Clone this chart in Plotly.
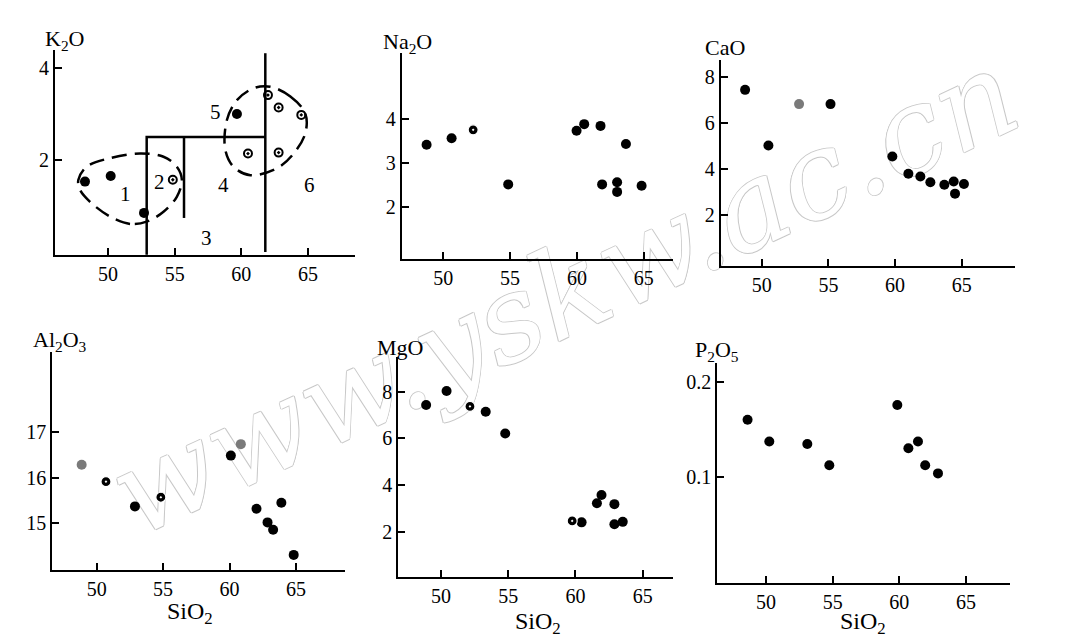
import plotly.graph_objects as go

# ---------------- data ----------------
sio2_ticks = [50, 55, 60, 65]

# K2O panel
k2o_filled_x = [48.27, 50.2, 52.7, 59.67]
k2o_filled_y = [1.53, 1.65, 0.85, 3.0]
k2o_open_x = [54.86, 62.0, 62.8, 64.5, 60.5, 62.8]
k2o_open_y = [1.57, 3.41, 3.14, 2.98, 2.14, 2.16]
k2o_ticks = [2, 4]
# field boundaries (solid)
k2o_bound_x = [52.9, 52.9, 61.8, None, 55.7, 55.7, None, 61.8, 61.8]
k2o_bound_y = [-0.06, 2.5, 2.5, None, 0.74, 2.5, None, 0.0, 4.32]
# dashed group outlines
k2o_loop1_x = [52.9, 51.65, 50.15, 48.65, 47.9, 47.77, 48.4, 50.15, 52.4, 54.16, 55.16, 55.54, 55.16, 54.16, 52.9]
k2o_loop1_y = [0.66, 0.61, 0.77, 1.09, 1.35, 1.565, 1.855, 2.04, 2.14, 2.07, 1.855, 1.565, 1.20, 0.876, 0.66]
k2o_loop2_x = [62.18, 63.68, 64.8, 64.8, 63.93, 62.68, 60.68, 59.42, 58.8, 58.92, 59.67, 60.93, 62.18]
k2o_loop2_y = [3.59, 3.38, 3.01, 2.58, 2.14, 1.82, 1.67, 1.85, 2.22, 2.87, 3.30, 3.56, 3.59]
k2o_field_labels = ["1", "2", "3", "4", "5", "6"]
k2o_field_x = [51.28, 53.86, 57.4, 58.67, 58.05, 65.14]
k2o_field_y = [1.27, 1.53, 0.3, 1.46, 3.05, 1.46]

# Na2O panel
na2o_filled_x = [48.76, 50.63, 54.86, 59.97, 60.54, 61.76, 61.88, 63.0, 63.0, 63.66, 64.83]
na2o_filled_y = [3.42, 3.57, 2.52, 3.74, 3.89, 3.85, 2.52, 2.57, 2.35, 3.44, 2.49]
na2o_ring_x = [52.24]
na2o_ring_y = [3.76]
na2o_ticks = [2, 3, 4]

# CaO panel
cao_filled_x = [48.75, 50.5, 55.16, 59.8, 61.0, 61.9, 62.65, 63.7, 64.4, 64.5, 65.17]
cao_filled_y = [7.45, 5.03, 6.83, 4.55, 3.8, 3.68, 3.43, 3.32, 3.46, 2.93, 3.35]
cao_gray_x = [52.8]
cao_gray_y = [6.83]
cao_ticks = [2, 4, 6, 8]

# Al2O3 panel
al_filled_x = [52.88, 60.1, 62.03, 62.86, 63.28, 63.9, 64.83]
al_filled_y = [15.37, 16.48, 15.32, 15.02, 14.86, 15.45, 14.31]
al_ring_x = [50.7, 54.83]
al_ring_y = [15.91, 15.57]
al_gray_x = [48.87, 60.85]
al_gray_y = [16.28, 16.73]
al_ticks = [15, 16, 17]

# MgO panel
mgo_filled_x = [48.9, 50.42, 53.33, 54.78, 60.46, 61.6, 61.94, 62.9, 62.9, 63.52]
mgo_filled_y = [7.43, 8.03, 7.14, 6.21, 2.4, 3.22, 3.57, 3.18, 2.32, 2.42]
mgo_ring_x = [52.16, 59.76]
mgo_ring_y = [7.37, 2.46]
mgo_ticks = [2, 4, 6, 8]

# P2O5 panel
p_filled_x = [48.62, 50.25, 53.1, 54.75, 59.85, 60.68, 61.4, 61.94, 62.9]
p_filled_y = [0.16, 0.137, 0.1345, 0.112, 0.1755, 0.130, 0.137, 0.112, 0.1035]
p_ticks = [0.1, 0.2]
p_ticktext = ["0.1", "0.2"]

titles = ["K<sub>2</sub>O", "Na<sub>2</sub>O", "CaO", "Al<sub>2</sub>O<sub>3</sub>", "MgO", "P<sub>2</sub>O<sub>5</sub>"]
xlabel = "SiO<sub>2</sub>"
watermark = "www.yskw.ac.cn"

# ---------------- layout helpers ----------------
W, H = 1081, 640
def fx(px):
    return px / W
def fy(py):
    return 1 - py / H

SERIF = "Liberation Serif"
TICKFONT = dict(family=SERIF, size=20, color="black")

# panel frames: (left px, right px, top px, bottom px, xrange, yrange)
panels = [
    (55, 355, 50, 255, [46.02, 68.53], [-0.065, 4.39]),
    (401.7, 673.3, 53.3, 259.3, [46.9, 67.2], [0.818, 5.5]),
    (720.7, 1015, 60, 266, [46.92, 69.0], [-0.22, 8.75]),
    (52.3, 345, 351.7, 570, [46.66, 68.69], [13.98, 18.75]),
    (398.3, 673.3, 356.7, 576.7, [46.83, 67.28], [0.07, 9.5]),
    (717.3, 1010, 363.3, 583.3, [46.35, 68.3], [-0.0122, 0.2194]),
]
ytickvals = [k2o_ticks, na2o_ticks, cao_ticks, al_ticks, mgo_ticks, p_ticks]

fig = go.Figure()

def ax(i):
    return ("x" if i == 1 else f"x{i}", "y" if i == 1 else f"y{i}")

def add_pts(i, xs, ys, kind):
    xa, ya = ax(i)
    if kind == "filled":
        m = dict(symbol="circle", size=10, color="black", line=dict(width=0))
    elif kind == "gray":
        m = dict(symbol="circle", size=10, color="#7a7a7a", line=dict(width=0))
    elif kind == "ring":
        m = dict(symbol="circle-dot", size=10, color="black", line=dict(width=1.2, color="white"))
    else:  # open with dot
        m = dict(symbol="circle-open-dot", size=8, color="black", line=dict(width=2, color="black"))
    fig.add_trace(go.Scatter(x=xs, y=ys, mode="markers", marker=m, xaxis=xa, yaxis=ya,
                             showlegend=False, hoverinfo="skip", cliponaxis=False))

# K2O lines
fig.add_trace(go.Scatter(x=k2o_bound_x, y=k2o_bound_y, mode="lines", line=dict(color="black", width=2.5),
                         xaxis="x", yaxis="y", showlegend=False, hoverinfo="skip", connectgaps=False))
for lx, ly in [(k2o_loop1_x, k2o_loop1_y), (k2o_loop2_x, k2o_loop2_y)]:
    fig.add_trace(go.Scatter(x=lx, y=ly, mode="lines",
                             line=dict(color="black", width=2.5, dash="15px,8px", shape="spline", smoothing=1.0),
                             xaxis="x", yaxis="y", showlegend=False, hoverinfo="skip"))

add_pts(1, k2o_filled_x, k2o_filled_y, "filled")
add_pts(1, k2o_open_x, k2o_open_y, "open")
add_pts(2, na2o_filled_x, na2o_filled_y, "filled")
add_pts(2, na2o_ring_x, na2o_ring_y, "ring")
add_pts(3, cao_filled_x, cao_filled_y, "filled")
add_pts(3, cao_gray_x, cao_gray_y, "gray")
add_pts(4, al_filled_x, al_filled_y, "filled")
add_pts(4, al_ring_x, al_ring_y, "ring")
add_pts(4, al_gray_x, al_gray_y, "gray")
add_pts(5, mgo_filled_x, mgo_filled_y, "filled")
add_pts(5, mgo_ring_x, mgo_ring_y, "ring")
add_pts(6, p_filled_x, p_filled_y, "filled")

layout = dict(
    width=W, height=H,
    margin=dict(l=0, r=0, t=0, b=0),
    paper_bgcolor="white", plot_bgcolor="rgba(0,0,0,0)",
    showlegend=False,
)
for i, (l, r, t, b, xr, yr) in enumerate(panels, start=1):
    xa, ya = ax(i)
    xkey = "xaxis" if i == 1 else f"xaxis{i}"
    ykey = "yaxis" if i == 1 else f"yaxis{i}"
    common = dict(showline=True, linecolor="black", linewidth=2, ticks="inside", ticklen=7,
                  tickwidth=2, tickcolor="black", showgrid=False, zeroline=False,
                  tickfont=TICKFONT, fixedrange=True)
    layout[xkey] = dict(domain=[fx(l), fx(r)], range=xr, anchor=ya, tickvals=sio2_ticks, **common)
    yd = dict(domain=[fy(b), fy(t)], range=yr, anchor=xa, tickvals=ytickvals[i - 1], **common)
    if i == 6:
        yd["ticktext"] = p_ticktext
    layout[ykey] = yd

annotations = []
title_pos = [(64, 40), (407, 43), (725, 48), (60, 341), (400, 347), (717, 351)]
for txt, (px, py) in zip(titles, title_pos):
    annotations.append(dict(text=txt, x=fx(px), y=fy(py), xref="paper", yref="paper",
                            xanchor="center", yanchor="middle", showarrow=False,
                            font=dict(family=SERIF, size=22, color="black")))
for (px, py) in [(190, 613), (538, 623), (863, 623)]:
    annotations.append(dict(text=xlabel, x=fx(px), y=fy(py), xref="paper", yref="paper",
                            xanchor="center", yanchor="middle", showarrow=False,
                            font=dict(family=SERIF, size=24, color="black")))
for lab, lx, ly in zip(k2o_field_labels, k2o_field_x, k2o_field_y):
    annotations.append(dict(text=lab, x=lx, y=ly, xref="x", yref="y", showarrow=False,
                            font=dict(family=SERIF, size=21, color="black")))
layout["annotations"] = annotations

# watermark (outlined text drawn beneath the data)
outline = "#c8c8c8"
shadow = ", ".join(f"{dx}px {dy}px 0 {outline}" for dx, dy in [(1, 0), (-1, 0), (0, 1), (0, -1)])
layout["shapes"] = [dict(type="rect", xref="paper", yref="paper",
                         x0=fx(560) - 0.2, x1=fx(560) + 0.2, y0=fy(285) - 0.1, y1=fy(285) + 0.1,
                         line=dict(width=0), fillcolor="rgba(0,0,0,0)", layer="below",
                         label=dict(text=watermark, textangle=-25, textposition="middle center",
                                    font=dict(family="DejaVu Serif", style="italic", size=120,
                                              color="white", shadow=shadow)))]

fig.update_layout(**layout)
fig.write_html("out.html")
